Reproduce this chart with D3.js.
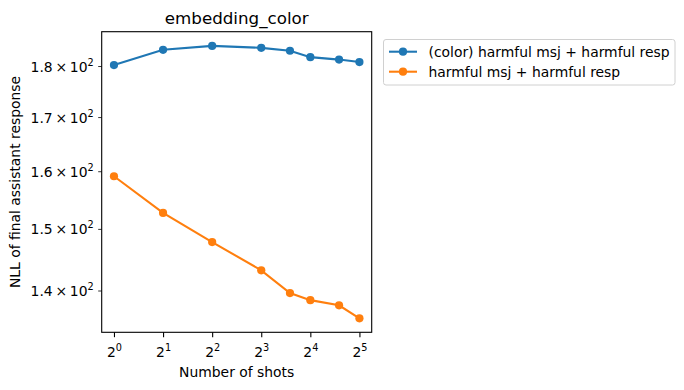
<!DOCTYPE html>
<html><head><meta charset="utf-8">
<script src="https://cdn.jsdelivr.net/npm/d3@7"></script>
<style>
body{margin:0;background:#fff;}
svg text{font-family:"DejaVu Sans",sans-serif;fill:#000;}
</style></head>
<body>
<svg id="c" width="684" height="390"></svg>
<script>
const shots = [1, 2, 4, 8, 12, 16, 24, 32];
const colorSeries = [180.2, 183.3, 184.1, 183.7, 183.1, 181.8, 181.3, 180.8];
const plainSeries = [159.1, 152.7, 147.8, 143.2, 139.6, 138.5, 137.7, 135.7];
const seriesNames = ["(color) harmful msj + harmful resp", "harmful msj + harmful resp"];
const seriesColors = ["#1f77b4", "#ff7f0e"];
const xTickExps = [0, 1, 2, 3, 4, 5];
const yTickVals = [140, 150, 160, 170, 180];
const titleText = "embedding_color";
const xLabel = "Number of shots";
const yLabel = "NLL of final assistant response";

const svg = d3.select("#c");
const L = 101.7, R = 371.7, T = 31.7, B = 332.3;

const x = d3.scaleLog().base(2).domain([Math.pow(2, -0.25), Math.pow(2, 5.25)]).range([L, R]);
const y = d3.scaleLog().domain([133.6, 187.05]).range([B, T]);

const fs = 13.9;

// x axis
const xAxis = svg.append("g").attr("transform", `translate(0,${B})`)
  .call(d3.axisBottom(x).tickValues(xTickExps.map(e => Math.pow(2, e))).tickSize(4.9).tickPadding(4).tickFormat(""));
xAxis.select(".domain").remove();
xAxis.selectAll(".tick line").attr("stroke", "#000").attr("stroke-width", 1.1);
xAxis.selectAll(".tick").each(function(d, i) {
  const t = d3.select(this).append("text").attr("y", 25).attr("font-size", fs).attr("text-anchor", "middle");
  t.append("tspan").text("2");
  t.append("tspan").attr("dy", -6).attr("font-size", fs * 0.7).text(xTickExps[i]);
});

// y axis
const yAxis = svg.append("g").attr("transform", `translate(${L},0)`)
  .call(d3.axisLeft(y).tickValues(yTickVals).tickSize(3.5).tickFormat(""));
yAxis.select(".domain").remove();
yAxis.selectAll(".tick line").attr("stroke", "#000").attr("stroke-width", 0.8);
yAxis.selectAll(".tick").each(function(d) {
  const t = d3.select(this).append("text").attr("x", -8).attr("y", 5).attr("font-size", fs).attr("text-anchor", "end");
  t.append("tspan").text((d / 100).toFixed(1) + "\u2009×\u200910");
  t.append("tspan").attr("dy", -6).attr("font-size", fs * 0.7).text("2");
});

// frame
svg.append("rect").attr("x", L).attr("y", T).attr("width", R - L).attr("height", B - T)
  .attr("fill", "none").attr("stroke", "#000").attr("stroke-width", 1.1);

// series
const allSeries = [colorSeries, plainSeries];
const line = d3.line().x(d => x(d[0])).y(d => y(d[1]));
allSeries.forEach((vals, si) => {
  const pts = shots.map((s, i) => [s, vals[i]]);
  svg.append("path").datum(pts).attr("d", line).attr("fill", "none")
    .attr("stroke", seriesColors[si]).attr("stroke-width", 2.08);
  svg.append("g").selectAll("circle").data(pts).join("circle")
    .attr("cx", d => x(d[0])).attr("cy", d => y(d[1])).attr("r", 4.1)
    .attr("fill", seriesColors[si]);
});

// title & labels
svg.append("text").attr("x", (L + R) / 2).attr("y", 24).attr("text-anchor", "middle")
  .attr("font-size", 16.7).text(titleText);
svg.append("text").attr("x", (L + R) / 2).attr("y", 377).attr("text-anchor", "middle")
  .attr("font-size", fs).text(xLabel);
svg.append("text").attr("transform", `translate(20,${(T + B) / 2}) rotate(-90)`)
  .attr("text-anchor", "middle").attr("font-size", fs).text(yLabel);

// legend
const lg = svg.append("g");
lg.append("rect").attr("x", 383.5).attr("y", 39.5).attr("width", 291.5).attr("height", 45.5)
  .attr("rx", 2.5).attr("fill", "#fff").attr("stroke", "#d0d0d0").attr("stroke-width", 1);
seriesNames.forEach((n, i) => {
  const yy = 51.7 + i * 20;
  lg.append("line").attr("x1", 389).attr("x2", 417).attr("y1", yy).attr("y2", yy)
    .attr("stroke", seriesColors[i]).attr("stroke-width", 2.08);
  lg.append("circle").attr("cx", 403).attr("cy", yy).attr("r", 4.1).attr("fill", seriesColors[i]);
  lg.append("text").attr("x", 428.5).attr("y", yy + 5).attr("font-size", fs).text(n);
});
</script>
</body></html>
